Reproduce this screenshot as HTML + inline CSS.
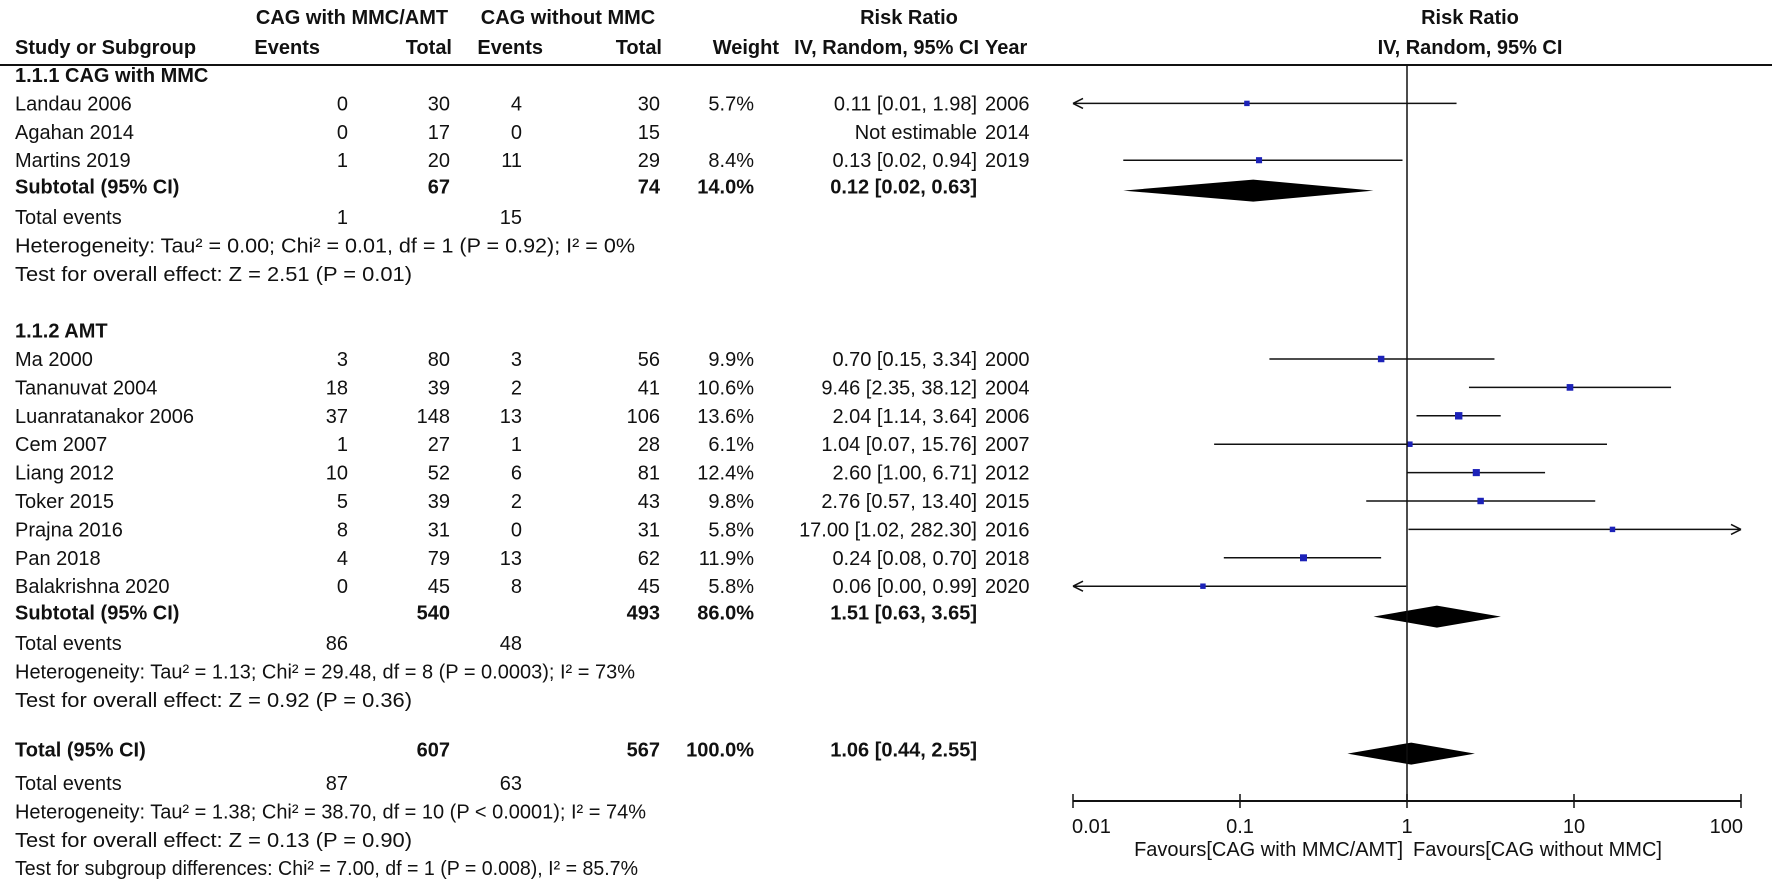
<!DOCTYPE html>
<html><head><meta charset="utf-8"><style>
html,body{margin:0;padding:0;background:#fff;}
svg{display:block;font-family:"Liberation Sans Narrow","Liberation Sans",sans-serif;font-size:20px;fill:#111;}
.b{font-weight:bold;}
</style></head><body>
<svg id="plot" width="1772" height="882" viewBox="0 0 1772 882" xmlns="http://www.w3.org/2000/svg">
<g id="hdr" class="b">
<text x="352" y="24" text-anchor="middle">CAG with MMC/AMT</text>
<text x="568" y="24" text-anchor="middle">CAG without MMC</text>
<text x="909" y="24" text-anchor="middle">Risk Ratio</text>
<text x="1470" y="24" text-anchor="middle">Risk Ratio</text>
<text x="15" y="54">Study or Subgroup</text>
<text x="320" y="54" text-anchor="end">Events</text>
<text x="452" y="54" text-anchor="end">Total</text>
<text x="543" y="54" text-anchor="end">Events</text>
<text x="662" y="54" text-anchor="end">Total</text>
<text x="779" y="54" text-anchor="end">Weight</text>
<text x="979" y="54" text-anchor="end">IV, Random, 95% CI</text>
<text x="985" y="54">Year</text>
<text x="1470" y="54" text-anchor="middle">IV, Random, 95% CI</text>
</g>
<line x1="0" y1="65" x2="1772" y2="65" stroke="#111" stroke-width="2"/>
<g id="rows"></g>
<g id="marks"></g>
<g id="axis"></g>
</svg>
<script>
const studyNames=["Landau 2006","Agahan 2014","Martins 2019","Ma 2000","Tananuvat 2004","Luanratanakor 2006","Cem 2007","Liang 2012","Toker 2015","Prajna 2016","Pan 2018","Balakrishna 2020"];
const studyRows=[1,2,3,10,11,12,13,14,15,16,17,18];
const ev1=["0","0","1","3","18","37","1","10","5","8","4","0"];
const tot1=["30","17","20","80","39","148","27","52","39","31","79","45"];
const ev2=["4","0","11","3","2","13","1","6","2","0","13","8"];
const tot2=["30","15","29","56","41","106","28","81","43","31","62","45"];
const weights=["5.7%","","8.4%","9.9%","10.6%","13.6%","6.1%","12.4%","9.8%","5.8%","11.9%","5.8%"];
const years=["2006","2014","2019","2000","2004","2006","2007","2012","2015","2016","2018","2020"];
const rr=[0.11,null,0.13,0.70,9.46,2.04,1.04,2.60,2.76,17.00,0.24,0.06];
const lo=[0.01,null,0.02,0.15,2.35,1.14,0.07,1.00,0.57,1.02,0.08,0.00];
const hi=[1.98,null,0.94,3.34,38.12,3.64,15.76,6.71,13.40,282.30,0.70,0.99];
const poolNames=["Subtotal (95% CI)","Subtotal (95% CI)","Total (95% CI)"];
const poolRows=[4,19,24];
const poolTot1=["67","540","607"];
const poolTot2=["74","493","567"];
const poolW=["14.0%","86.0%","100.0%"];
const poolRR=[0.12,1.51,1.06];
const poolLo=[0.02,0.63,0.44];
const poolHi=[0.63,3.65,2.55];
const tickVals=[0.01,0.1,1,10,100];
const tickLabels=["0.01","0.1","1","10","100"];

const NS="http://www.w3.org/2000/svg";
const rowsG=document.getElementById('rows'),marksG=document.getElementById('marks'),axisG=document.getElementById('axis');
function rowY(i){let y=75+i*28.4;if(i===24)y-=7;else if(i>24)y-=2;return y;}
function xs(v){return 1407+167*Math.log10(v);}
const XMIN=xs(0.01),XMAX=xs(100);
function fmt(v){return v.toFixed(2);}
function txt(g,x,y,s,anchor,bold,len){const t=document.createElementNS(NS,'text');t.setAttribute('x',x);t.setAttribute('y',y+7);if(anchor)t.setAttribute('text-anchor',anchor);if(bold)t.setAttribute('font-weight','bold');if(len){t.setAttribute('textLength',len);t.setAttribute('lengthAdjust','spacingAndGlyphs');}t.textContent=s;g.appendChild(t);return t;}
function el(g,tag,attrs){const e=document.createElementNS(NS,tag);for(const k in attrs)e.setAttribute(k,attrs[k]);g.appendChild(e);return e;}

let t;
t=txt(rowsG,15,rowY(0),"1.1.1 CAG with MMC",null,true);


t=txt(rowsG,15,rowY(9),"1.1.2 AMT",null,true);



const foot=[[5,"Total events","1","15"],[6,"Heterogeneity: Tau² = 0.00; Chi² = 0.01, df = 1 (P = 0.92); I² = 0%",null,null,620],[7,"Test for overall effect: Z = 2.51 (P = 0.01)",null,null,397],
[20,"Total events","86","48"],[21,"Heterogeneity: Tau² = 1.13; Chi² = 29.48, df = 8 (P = 0.0003); I² = 73%",null,null,620],[22,"Test for overall effect: Z = 0.92 (P = 0.36)",null,null,397],
[25,"Total events","87","63"],[26,"Heterogeneity: Tau² = 1.38; Chi² = 38.70, df = 10 (P < 0.0001); I² = 74%",null,null,631],[27,"Test for overall effect: Z = 0.13 (P = 0.90)",null,null,397],[28,"Test for subgroup differences: Chi² = 7.00, df = 1 (P = 0.008), I² = 85.7%",null,null,623]];
foot.forEach(f=>{const y=rowY(f[0]);
 t=txt(rowsG,15,y,f[1],null,false,f[4]);
 
 
 if(f[2]!==null){t=txt(rowsG,348,y,f[2],'end');
 
 
 t=txt(rowsG,522,y,f[3],'end');
 
 }
});

studyNames.forEach((n,i)=>{const y=rowY(studyRows[i]);
 const vals=[[15,n,null],[348,ev1[i],'end'],[450,tot1[i],'end'],[522,ev2[i],'end'],[660,tot2[i],'end'],[754,weights[i],'end'],[977,rr[i]===null?"Not estimable":fmt(rr[i])+" ["+fmt(lo[i])+", "+fmt(hi[i])+"]",'end'],[985,years[i],null]];
 vals.forEach(v=>{t=txt(rowsG,v[0],y,v[1],v[2]);
  
  });
 if(rr[i]===null)return;
 let x1=xs(Math.max(lo[i],0.01)),x2=xs(Math.min(hi[i],100));
 const ln=el(marksG,'line',{x1:x1,y1:y,x2:x2,y2:y,stroke:'#111','stroke-width':1.5});
 
 
 if(lo[i]<=0.01){const a=el(marksG,'path',{d:`M${x1} ${y} l10 -5 M${x1} ${y} l10 5`,stroke:'#111','stroke-width':1.5,fill:'none'});
  
  }
 if(hi[i]>=100){const a=el(marksG,'path',{d:`M${x2} ${y} l-10 -5 M${x2} ${y} l-10 5`,stroke:'#111','stroke-width':1.5,fill:'none'});
  
  }
 const w=parseFloat(weights[i]);const s=4+w*0.25;
 const sq=el(marksG,'rect',{x:xs(rr[i])-s/2,y:y-s/2,width:s,height:s,fill:'#1c22b8'});
 
 
});

poolNames.forEach((n,i)=>{const y=rowY(poolRows[i])-(i<2?2:0);
 const vals=[[15,n,null],[450,poolTot1[i],'end'],[660,poolTot2[i],'end'],[754,poolW[i],'end'],[977,fmt(poolRR[i])+" ["+fmt(poolLo[i])+", "+fmt(poolHi[i])+"]",'end']];
 vals.forEach(v=>{t=txt(rowsG,v[0],y,v[1],v[2],true);
  
  });
 const yd=y+4;
 const d=el(marksG,'polygon',{points:`${xs(poolLo[i])},${yd} ${xs(poolRR[i])},${yd-11} ${xs(poolHi[i])},${yd} ${xs(poolRR[i])},${yd+11}`,fill:'#000'});
 
 
});

const AY=801;
let a=el(axisG,'line',{x1:xs(1),y1:65,x2:xs(1),y2:AY,stroke:'#111','stroke-width':1.5});


a=el(axisG,'line',{x1:XMIN,y1:AY,x2:XMAX,y2:AY,stroke:'#111','stroke-width':2});


tickVals.forEach((v,i)=>{const x=xs(v);
 const tk=el(axisG,'line',{x1:x,y1:AY-7,x2:x,y2:AY+7,stroke:'#111','stroke-width':1.5});
 
 
 const anc=i===0?'start':(i===tickVals.length-1?'end':'middle');
 const lb=txt(axisG,i===0?x-1:(i===tickVals.length-1?x+2:x),826,tickLabels[i],anc);
 
 
});
t=txt(axisG,xs(1)-4,849,"Favours[CAG with MMC/AMT]",'end');


t=txt(axisG,xs(1)+6,849,"Favours[CAG without MMC]",'start');


</script>
</body></html>
